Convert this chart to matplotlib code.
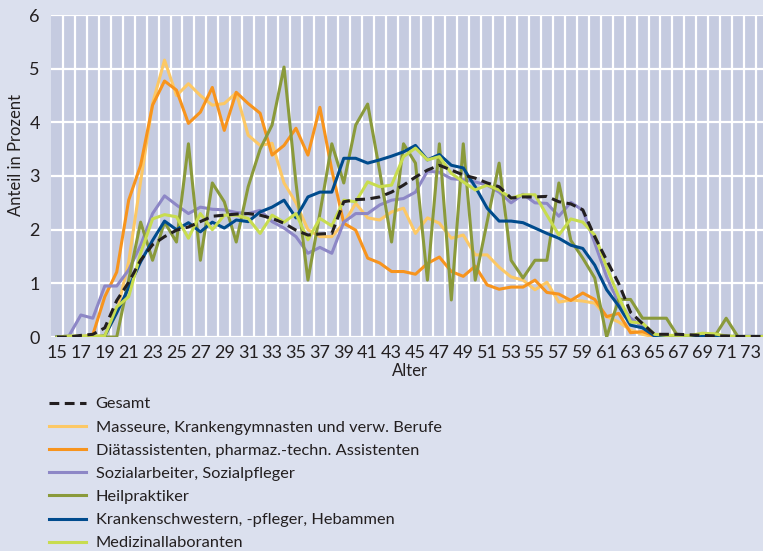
import numpy as np
import matplotlib
matplotlib.use("Agg")
import matplotlib.pyplot as plt

plt.rcParams['font.family'] = ['Lato', 'DejaVu Sans']

# Altersjahre 15..74
alter = list(range(15, 75))

gesamt = [0, 0, 0.03, 0.05, 0.17, 0.68, 1.02, 1.43, 1.72, 1.87,
          1.99, 2.05, 2.15, 2.25, 2.27, 2.29, 2.3, 2.27, 2.21, 2.12,
          1.99, 1.9, 1.92, 1.93, 2.52, 2.56, 2.57, 2.61, 2.7, 2.83,
          2.98, 3.11, 3.2, 3.11, 3.02, 2.96, 2.87, 2.8, 2.59, 2.61,
          2.61, 2.62, 2.52, 2.48, 2.37, 1.87, 1.43, 1.0, 0.46, 0.25,
          0.05, 0.05, 0.05, 0.04, 0.03, 0.02, 0.02, 0.01, 0.01, 0.01]

masseure = [0, 0, 0, 0, 0.02, 0.45, 1.4, 2.9, 4.35, 5.16,
            4.5, 4.72, 4.5, 4.32, 4.35, 4.55, 3.76, 3.57, 3.61, 2.87,
            2.5, 2.0, 1.87, 1.87, 2.12, 2.49, 2.22, 2.18, 2.33, 2.4,
            1.93, 2.22, 2.12, 1.84, 1.9, 1.53, 1.53, 1.3, 1.12, 1.06,
            0.88, 1.02, 0.65, 0.69, 0.67, 0.63, 0.38, 0.28, 0.13, 0.05,
            0, 0, 0, 0, 0, 0, 0, 0, 0, 0]

diaet = [0, 0, 0, 0.04, 0.75, 1.21, 2.55, 3.2, 4.32, 4.77,
         4.6, 3.98, 4.19, 4.65, 3.85, 4.56, 4.35, 4.17, 3.39, 3.57,
         3.89, 3.39, 4.28, 3.11, 2.12, 1.99, 1.47, 1.38, 1.22, 1.22,
         1.17, 1.37, 1.49, 1.22, 1.13, 1.32, 0.97, 0.89, 0.93, 0.93,
         1.06, 0.83, 0.8, 0.68, 0.82, 0.7, 0.38, 0.44, 0.08, 0.1,
         0.02, 0, 0, 0, 0, 0, 0, 0, 0, 0]

sozial = [0, 0.02, 0.41, 0.35, 0.95, 0.95, 1.25, 1.71, 2.3, 2.63,
          2.46, 2.3, 2.42, 2.38, 2.37, 2.32, 2.3, 2.36, 2.15, 2.03,
          1.87, 1.56, 1.67, 1.56, 2.14, 2.3, 2.3, 2.46, 2.55, 2.58,
          2.7, 3.09, 3.07, 2.95, 2.93, 2.89, 2.83, 2.7, 2.5, 2.66,
          2.5, 2.49, 2.25, 2.51, 2.36, 1.75, 1.12, 0.63, 0.35, 0.19,
          0.03, 0.01, 0.01, 0.01, 0.01, 0.01, 0.01, 0.01, 0.01, 0.01]

heil = [0, 0, 0, 0, 0, 0, 1.06, 2.14, 1.43, 2.14,
        1.77, 3.6, 1.43, 2.87, 2.52, 1.77, 2.8, 3.5, 3.95, 5.03,
        2.87, 1.06, 2.3, 3.6, 2.87, 3.95, 4.34, 3.1, 1.77, 3.6,
        3.24, 1.06, 3.6, 0.69, 3.6, 1.06, 2.15, 3.24, 1.43, 1.1,
        1.43, 1.43, 2.87, 1.8, 1.47, 1.1, 0, 0.7, 0.7, 0.35,
        0.35, 0.35, 0, 0, 0, 0, 0.35, 0, 0, 0]

kranken = [0, 0, 0, 0, 0.02, 0.45, 0.92, 1.4, 1.8, 2.16,
           2.0, 2.13, 1.96, 2.14, 2.03, 2.18, 2.15, 2.33, 2.42, 2.55,
           2.22, 2.61, 2.7, 2.7, 3.33, 3.33, 3.24, 3.3, 3.37, 3.45,
           3.57, 3.3, 3.4, 3.2, 3.15, 2.8, 2.4, 2.16, 2.16, 2.13,
           2.03, 1.93, 1.84, 1.71, 1.65, 1.34, 0.88, 0.58, 0.22, 0.17,
           0.02, 0.01, 0.01, 0.01, 0.01, 0.01, 0.01, 0.01, 0.01, 0.01]

medizin = [0, 0.02, 0.02, 0.02, 0.02, 0.56, 0.75, 1.56, 2.2, 2.28,
           2.24, 1.84, 2.3, 2.0, 2.27, 2.27, 2.21, 1.93, 2.27, 2.14,
           2.3, 1.81, 2.21, 2.07, 2.55, 2.52, 2.89, 2.8, 2.83, 3.36,
           3.52, 3.3, 3.36, 3.05, 2.89, 2.74, 2.83, 2.74, 2.59, 2.65,
           2.65, 2.27, 1.9, 2.2, 2.14, 1.9, 1.3, 0.75, 0.28, 0.26,
           0.05, 0.03, 0.03, 0.03, 0.07, 0.06, 0.02, 0.01, 0.01, 0.01]

labels = ['Gesamt',
          'Masseure, Krankengymnasten und verw. Berufe',
          'Diätassistenten, pharmaz.-techn. Assistenten',
          'Sozialarbeiter, Sozialpfleger',
          'Heilpraktiker',
          'Krankenschwestern, -pfleger, Hebammen',
          'Medizinallaboranten']

bg = '#dbe0ee'
plot_bg = '#c5cbe0'
txt = '#231f20'

fig = plt.figure(figsize=(7.63, 5.51), dpi=100, facecolor=bg)
ax = fig.add_axes([51 / 763, 1 - 337 / 551, 717 / 763, 322 / 551])
ax.set_facecolor(plot_bg)

lw = 2.2
h_mas, = ax.plot(alter, masseure, color='#fcc865', lw=lw)
h_dia, = ax.plot(alter, diaet, color='#f7941d', lw=lw)
h_soz, = ax.plot(alter, sozial, color='#8d87c6', lw=lw)
h_hei, = ax.plot(alter, heil, color='#8a9a3b', lw=lw)
h_kra, = ax.plot(alter, kranken, color='#004b8d', lw=lw)
h_med, = ax.plot(alter, medizin, color='#c8dc4f', lw=lw)
h_ges, = ax.plot(alter, gesamt, color=txt, lw=2.2, ls=(0, (3.2, 1.8)))

ax.set_xlim(14.5, 74.5)
ax.set_ylim(0, 6)
ax.set_xticks(alter[::2])
ax.set_xticks(np.arange(15.5, 74.5, 1), minor=True)
ax.set_yticks(range(0, 7))
ax.grid(axis='x', which='minor', color='white', lw=1.6)
ax.grid(axis='y', which='major', color='white', lw=1.6)
ax.set_axisbelow(True)
ax.tick_params(which='both', length=0, labelsize=13, colors=txt)
ax.tick_params(axis='x', pad=6)
ax.tick_params(axis='y', pad=8)
for s in ax.spines.values():
    s.set_visible(False)

ax.set_xlabel('Alter', fontsize=12, color=txt, labelpad=1)
ax.set_ylabel('Anteil in Prozent', fontsize=12, color=txt)
ax.yaxis.set_label_coords(-0.038, 0.565)

fig.legend([h_ges, h_mas, h_dia, h_soz, h_hei, h_kra, h_med], labels,
           loc='upper left', bbox_to_anchor=(49 / 763, 1 - 397 / 551),
           frameon=False, fontsize=11.8, handlelength=2.25, handletextpad=0.6,
           labelspacing=0.53, borderpad=0, borderaxespad=0,
           labelcolor=txt)

fig.savefig('out.png', dpi=100, facecolor=bg)
